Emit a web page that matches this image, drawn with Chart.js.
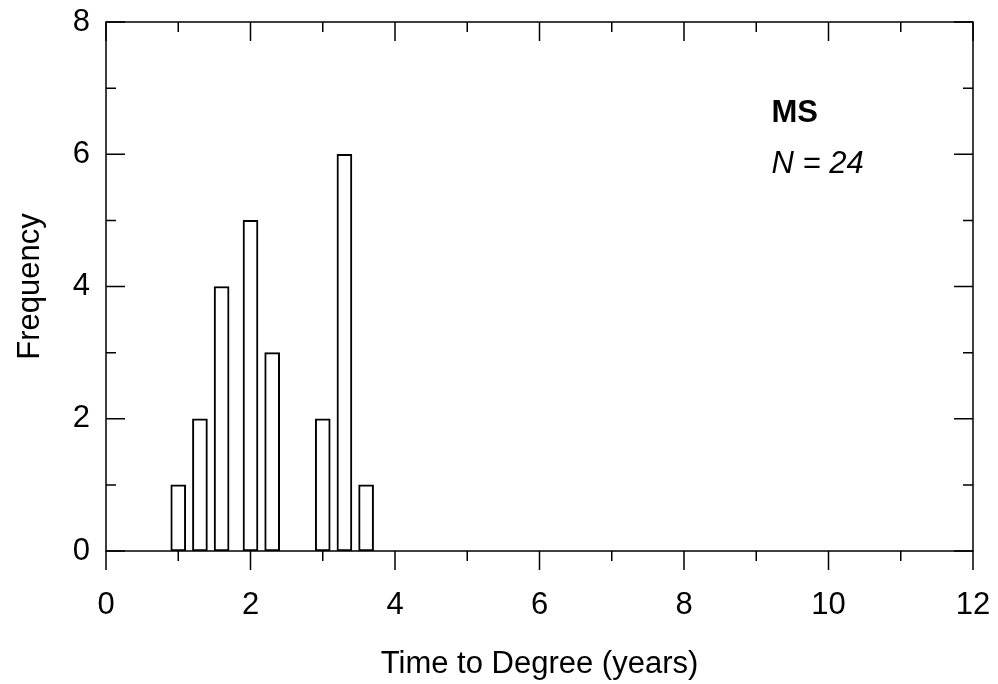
<!DOCTYPE html>
<html lang="en">
<head>
  <meta charset="UTF-8" />
  <title>Time to Degree - MS</title>
  <script src="https://cdn.jsdelivr.net/npm/chart.js"></script>
  <style>
    html, body { margin: 0; padding: 0; background: #fff; }
    #wrap { width: 998px; height: 684px; }
  </style>
</head>
<body>
  <div id="wrap"><canvas id="hist" width="998" height="684"></canvas></div>

  <script>
    // bin centres (years) and counts
    const binCenters = [1.0, 1.3, 1.6, 2.0, 2.3, 3.0, 3.3, 3.6];
    const counts = [1, 2, 4, 5, 3, 2, 6, 1];
    const xTicks = [0, 2, 4, 6, 8, 10, 12];
    const yTicks = [0, 2, 4, 6, 8];
    const groupLabel = 'MS';
    const nLabel = 'N = 24';

    const FONT = '"Liberation Sans", Arial, sans-serif';

    // frame + tick marks drawn like the original (inward on left/top/right, outward on bottom)
    const framePlugin = {
      id: 'frame',
      afterDraw(chart) {
        const { ctx, chartArea: a, scales: { x, y } } = chart;
        ctx.save();
        ctx.strokeStyle = '#000';
        ctx.lineWidth = 1.5;
        ctx.strokeRect(a.left, a.top, a.right - a.left, a.bottom - a.top);
        ctx.beginPath();
        for (let v = x.min; v <= x.max; v++) {
          const px = x.getPixelForValue(v);
          const len = v % 2 === 0 ? 19 : 10;
          ctx.moveTo(px, a.bottom); ctx.lineTo(px, a.bottom + len);
          ctx.moveTo(px, a.top); ctx.lineTo(px, a.top + len);
        }
        for (let v = y.min; v <= y.max; v++) {
          const py = y.getPixelForValue(v);
          const len = v % 2 === 0 ? 19 : 10;
          ctx.moveTo(a.left, py); ctx.lineTo(a.left + len, py);
          ctx.moveTo(a.right, py); ctx.lineTo(a.right - len, py);
        }
        ctx.stroke();

        // annotation text
        ctx.fillStyle = '#000';
        ctx.textAlign = 'left';
        ctx.textBaseline = 'alphabetic';
        ctx.font = 'bold 31px ' + FONT;
        ctx.fillText(groupLabel, x.getPixelForValue(9.21), y.getPixelForValue(6.49));
        ctx.font = 'italic 31px ' + FONT;
        ctx.fillText(nLabel, x.getPixelForValue(9.21), y.getPixelForValue(5.72));
        ctx.restore();
      }
    };

    new Chart(document.getElementById('hist'), {
      type: 'bar',
      data: {
        datasets: [{
          data: binCenters.map((c, i) => ({ x: c, y: counts[i] })),
          backgroundColor: '#fff',
          borderColor: '#000',
          borderWidth: 2,
          borderSkipped: false,
          barThickness: 15
        }]
      },
      options: {
        responsive: false,
        animation: false,
        devicePixelRatio: 1,
        layout: { padding: { top: 22, right: 25, left: 0, bottom: 0 } },
        plugins: { legend: { display: false }, tooltip: { enabled: false } },
        scales: {
          x: {
            type: 'linear', min: 0, max: 12, offset: false,
            afterBuildTicks: s => { s.ticks = xTicks.map(v => ({ value: v })); },
            afterFit: s => { s.height = 133; s.paddingLeft = 0; s.paddingRight = 0; },
            grid: { display: false, drawTicks: false },
            border: { display: false },
            ticks: { color: '#000', padding: 36, maxRotation: 0, font: { family: FONT, size: 31 } },
            title: { display: true, text: 'Time to Degree (years)', color: '#000', padding: { top: 0, bottom: 1 }, font: { family: FONT, size: 31 } }
          },
          y: {
            type: 'linear', min: 0, max: 8,
            afterBuildTicks: s => { s.ticks = yTicks.map(v => ({ value: v })); },
            afterFit: s => { s.width = 106; s.paddingTop = 0; s.paddingBottom = 0; },
            grid: { display: false, drawTicks: false },
            border: { display: false },
            ticks: { color: '#000', padding: 16, font: { family: FONT, size: 31 } },
            title: { display: true, text: 'Frequency', color: '#000', padding: { top: 12, bottom: 0 }, font: { family: FONT, size: 31 } }
          }
        }
      },
      plugins: [framePlugin]
    });
  </script>
</body>
</html>
